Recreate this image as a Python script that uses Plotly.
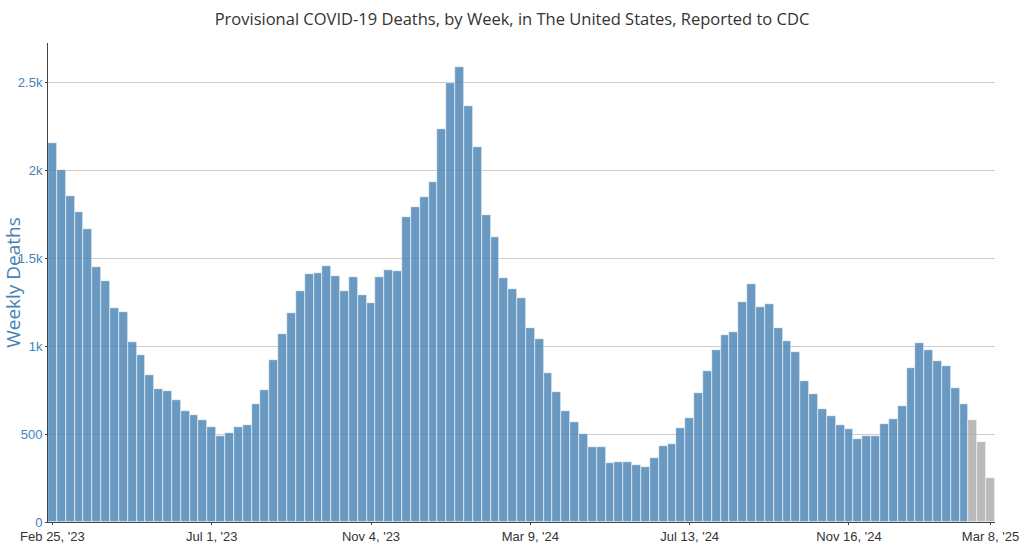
"""
Weekly provisional COVID-19 deaths in the US, drawn as a bar chart with Plotly.
"""

import pandas as pd
import plotly.graph_objects as go

# Week-ending dates: Feb 25, 2023 through Mar 8, 2025 (107 weeks)
weeks = pd.date_range("2023-02-25", "2025-03-08", freq="7D")

deaths = [
    2154, 2003, 1852, 1763, 1669, 1449, 1374, 1219, 1196, 1026,
    949, 839, 756, 743, 693, 633, 610, 582, 541, 489,
    508, 539, 552, 671, 750, 920, 1068, 1187, 1313, 1410,
    1417, 1455, 1398, 1313, 1393, 1294, 1247, 1395, 1432, 1427,
    1733, 1795, 1848, 1937, 2234, 2498, 2589, 2368, 2135, 1746,
    1621, 1391, 1327, 1272, 1102, 1041, 850, 737, 631, 571,
    499, 427, 427, 334, 340, 344, 325, 314, 367, 433,
    444, 533, 591, 733, 860, 979, 1064, 1081, 1251, 1355,
    1223, 1240, 1102, 1030, 969, 803, 731, 642, 601, 554,
    527, 471, 491, 488, 559, 584, 659, 879, 1020, 977,
    916, 890, 765, 669, 582, 453, 253,
]

# last weeks are still incomplete, shown in gray
n_incomplete = 3

tick_dates = ["2023-02-25", "2023-07-01", "2023-11-04", "2024-03-09",
              "2024-07-13", "2024-11-16", "2025-03-08"]

bar_colors = ["steelblue"] * (len(deaths) - n_incomplete) + ["darkgray"] * n_incomplete

fig = go.Figure()
fig.add_trace(go.Bar(
    x=weeks,
    y=deaths,
    marker=dict(color=bar_colors, opacity=0.8, line=dict(color="white", width=0.6)),
    hovertemplate="%{x|%b %-d, %Y}<br>%{y:,} deaths<extra></extra>",
))

fig.update_layout(
    title=dict(
        text="Provisional COVID-19 Deaths, by Week, in The United States, Reported to CDC",
        x=0.5, xanchor="center", y=0.965, yanchor="middle",
        font=dict(family="Open Sans", size=16.5, color="#333333"),
    ),
    width=1024,
    height=543,
    plot_bgcolor="white",
    paper_bgcolor="white",
    bargap=0,
    showlegend=False,
    margin=dict(l=48, r=29, t=43, b=21),
    font=dict(family="Liberation Sans, Arial", size=13),
)

fig.update_xaxes(
    tickvals=pd.to_datetime(tick_dates),
    tickformat="%b %-d, '%y",
    tickfont=dict(size=13, color="#333333"),
    showline=True, linecolor="#444444", linewidth=1,
    ticks="outside", ticklen=2, tickcolor="#444444",
    showgrid=False,
    automargin=False,
)

fig.update_yaxes(
    title=dict(text="Weekly Deaths", font=dict(family="Open Sans", size=19, color="#4682b4"), standoff=6),
    tickformat="~s",
    tickfont=dict(size=13, color="#4682b4"),
    showline=True, linecolor="#444444", linewidth=1,
    ticks="outside", ticklen=2, tickcolor="#444444",
    showgrid=True, gridcolor="#cccccc", gridwidth=1,
    zeroline=False,
    automargin=False,
)

# drop the default body margin so the figure sits at the page corner
fig.write_html(
    "out.html",
    config={"displayModeBar": False},
    post_script="document.body.style.margin='0';",
)
